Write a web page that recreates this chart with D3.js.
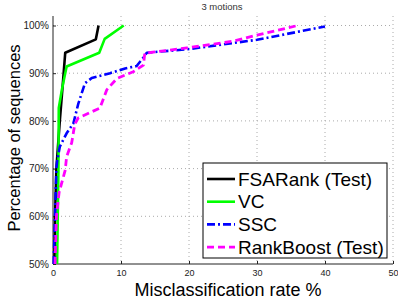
<!DOCTYPE html>
<html><head><meta charset="utf-8">
<script src="https://cdn.jsdelivr.net/npm/d3@7"></script>
<style>body{margin:0;background:#fff}svg{display:block}</style>
</head><body>
<svg id="c" width="398" height="299"></svg>
<script>
const title = "3 motions";
const xLabel = "Misclassification rate %";
const yLabel = "Percentage of sequences";
const xTicks = [0, 10, 20, 30, 40, 50];
const yTicks = [50, 60, 70, 80, 90, 100];
const seriesNames = ["FSARank (Test)", "VC", "SSC", "RankBoost (Test)"];
const fsarank = [[0.2,50],[0.3,60],[0.5,70],[1.0,80],[1.4,87],[1.8,94.3],[6.3,97.1],[6.7,100]];
const vc = [[0.6,50],[0.7,60],[0.8,70],[0.85,82.7],[1.3,86.5],[2.0,91.4],[6.8,94.3],[7.6,97.2],[10.4,100]];
const ssc = [[0.1,50],[0.3,60],[0.5,70],[0.6,71.5],[1.0,74.6],[2.0,77.4],[3.0,79.5],[3.7,83.5],[4.7,87.9],[5.7,89],[8.4,90],[10.6,91],[12.3,91.5],[13.3,93.3],[13.8,94.3],[19.7,95],[30,97],[40,99.8]];
const rankboost = [[0.3,50],[0.5,60],[0.9,65],[1.8,69.7],[2.0,72.5],[2.75,75.4],[3.2,79.3],[3.7,80.6],[6.9,82.7],[7.9,86.5],[9.4,88.9],[11.8,90.3],[13.3,91.7],[13.5,94.2],[19.7,95.3],[26.5,96.7],[30,98],[36,100]];

const seriesData = [fsarank, vc, ssc, rankboost];
const colors = ["#000000", "#00ff00", "#0000ff", "#ff00ff"];
const dashes = [null, null, "8,3,2,3", "7,4"];
const widths = [2.6, 2.6, 2.6, 2.8];
const FONT = "Liberation Sans, Arial, sans-serif";

const svg = d3.select("#c");
const L = 53, R = 393, T = 16, B = 264;
const x = d3.scaleLinear().domain([0, 50]).range([L, R]);
const y = d3.scaleLinear().domain([50, 100]).range([B, 25.5]);

// grid
const g = svg.append("g");
g.selectAll(".gx").data(xTicks.slice(1)).enter().append("line")
  .attr("x1", d => x(d)).attr("x2", d => x(d)).attr("y1", T).attr("y2", B)
  .attr("stroke", "#aaa").attr("stroke-width", 1).attr("stroke-dasharray", "1,3");
g.selectAll(".gy").data(yTicks.slice(1)).enter().append("line")
  .attr("x1", L).attr("x2", R).attr("y1", d => y(d)).attr("y2", d => y(d))
  .attr("stroke", "#aaa").attr("stroke-width", 1).attr("stroke-dasharray", "1,3");

// axes
const xAxis = d3.axisBottom(x).tickValues(xTicks).tickSize(-3).tickPadding(6).tickFormat(d3.format("d"));
const yAxis = d3.axisLeft(y).tickValues(yTicks).tickSize(-3).tickPadding(4).tickFormat(d => d + "%");
const gx = svg.append("g").attr("transform", `translate(0,${B})`).call(xAxis);
gx.select(".domain").attr("d", `M${L},0H${R}`).attr("stroke", "#222");
gx.selectAll("text").attr("font-family", FONT).attr("font-size", 9).attr("fill", "#222");
gx.selectAll(".tick line").attr("stroke", "#222");
const gy = svg.append("g").attr("transform", `translate(${L},0)`).call(yAxis);
gy.select(".domain").attr("d", `M0,${T}V${B}`).attr("stroke", "#222");
gy.selectAll("text").attr("font-family", FONT).attr("font-size", 10).attr("fill", "#222");
gy.selectAll(".tick line").attr("stroke", "#222");

// lines
const line = d3.line().x(d => x(d[0])).y(d => y(d[1]));
seriesData.forEach((s, i) => {
  svg.append("path").datum(s).attr("d", line)
    .attr("fill", "none").attr("stroke", colors[i]).attr("stroke-width", widths[i])
    .attr("stroke-dasharray", dashes[i]).attr("stroke-linejoin", "round");
});

// title & labels
svg.append("text").attr("x", 222).attr("y", 10).attr("text-anchor", "middle")
  .attr("font-family", FONT).attr("font-size", 9.5).attr("fill", "#333").text(title);
svg.append("text").attr("x", 228).attr("y", 296).attr("text-anchor", "middle")
  .attr("font-family", FONT).attr("font-size", 18).attr("fill", "#000").text(xLabel);
svg.append("text").attr("transform", "translate(20,138) rotate(-90)").attr("text-anchor", "middle")
  .attr("font-family", FONT).attr("font-size", 16.5).attr("fill", "#000").text(yLabel);

// legend
const lg = svg.append("g");
lg.append("rect").attr("x", 203).attr("y", 163).attr("width", 184).attr("height", 95)
  .attr("fill", "#fff").attr("stroke", "#000").attr("stroke-width", 1);
seriesNames.forEach((n, i) => {
  const yy = 179 + i * 22.7;
  lg.append("line").attr("x1", 207).attr("x2", 235).attr("y1", yy).attr("y2", yy)
    .attr("stroke", colors[i]).attr("stroke-width", widths[i]).attr("stroke-dasharray", dashes[i]);
  lg.append("text").attr("x", 238).attr("y", yy + 6.5).attr("font-family", FONT)
    .attr("font-size", 19).attr("fill", "#000").text(n);
});
</script>
</body></html>
